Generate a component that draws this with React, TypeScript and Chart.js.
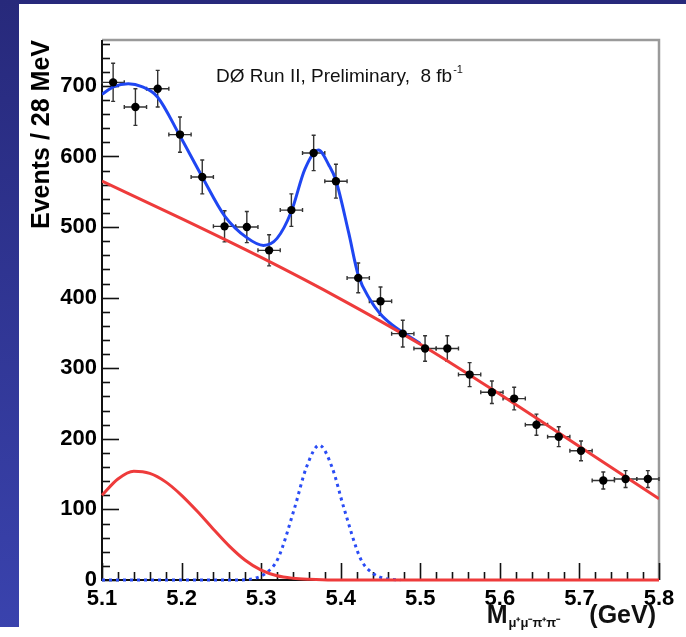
import React, { useEffect, useRef } from "react";
import { Chart, registerables } from "chart.js";

Chart.register(...registerables);

const W = 686;
const H = 637;
const FONT = '"Liberation Sans", Arial, Helvetica, sans-serif';

// Data histogram (28 MeV bins)
const binCenters = [
  5.114, 5.142, 5.17, 5.198, 5.226, 5.254, 5.282, 5.31, 5.338, 5.366, 5.394, 5.422, 5.45,
  5.478, 5.506, 5.534, 5.562, 5.59, 5.618, 5.646, 5.674, 5.702, 5.73, 5.758, 5.786,
];
const counts = [
  705, 670, 696, 631, 571, 501, 500, 467, 524, 605, 565, 428, 395, 349, 328, 328, 291, 266,
  257, 220, 203, 183, 141, 143, 143,
];
const countErrors = [
  27, 26, 26, 25, 24, 22, 22, 22, 23, 25, 24, 21, 20, 19, 18, 18, 17, 16, 16, 15, 14, 14, 12,
  12, 12,
];
const binHalfWidth = 0.014;

// Total fit (blue)
const totalFitX = [
  5.1, 5.115, 5.133, 5.15, 5.17, 5.197, 5.226, 5.254, 5.282, 5.303, 5.32, 5.338, 5.355, 5.372,
  5.385, 5.394, 5.41, 5.422, 5.437, 5.449, 5.464, 5.478, 5.5,
];
const totalFitY = [
  688, 699, 703, 699, 684, 631, 571, 516, 485, 474, 484, 522, 582, 609, 588, 566, 492, 432, 397,
  378, 362, 351, 335,
];

// Combinatorial background (red line)
const bkgLineX = [5.1, 5.2, 5.3, 5.4, 5.5, 5.6, 5.7, 5.8];
const bkgLineY = [565, 512, 457, 398, 334, 263, 189, 115];

// Partially reconstructed background (red bump)
const bkgBumpX = [
  5.1, 5.12, 5.14, 5.16, 5.18, 5.2, 5.22, 5.24, 5.26, 5.28, 5.3, 5.32, 5.34, 5.36, 5.39, 5.8,
];
const bkgBumpY = [120, 143, 154, 151, 139, 120, 97, 72, 48, 28, 14, 6, 2.5, 1, 0, 0];

// Signal (blue dotted)
const signalX = [
  5.1, 5.27, 5.29, 5.305, 5.321, 5.342, 5.357, 5.373, 5.389, 5.404, 5.425, 5.441, 5.456, 5.475,
];
const signalY = [0, 0, 2, 9, 30, 102, 160, 191, 160, 102, 30, 9, 2, 0];

const xTickValues = [5.1, 5.2, 5.3, 5.4, 5.5, 5.6, 5.7, 5.8];
const yTickValues = [0, 100, 200, 300, 400, 500, 600, 700];
const xMin = 5.1;
const xMax = 5.8;
const yMin = 0;
const yMax = 765;
const xMinorStep = 0.02;
const yMinorStep = 20;

const pts = (xs: number[], ys: number[]) => xs.map((x, i) => ({ x, y: ys[i] }));

const bgPlugin = {
  id: "bgPlugin",
  beforeDraw(chart: any) {
    const ctx = chart.ctx;
    ctx.save();
    ctx.fillStyle = "#ffffff";
    ctx.fillRect(0, 0, W, H);
    const g = ctx.createLinearGradient(0, 0, 0, H);
    g.addColorStop(0, "#27297b");
    g.addColorStop(1, "#3a43ae");
    ctx.fillStyle = g;
    ctx.fillRect(0, 0, W, 4);
    ctx.fillRect(0, 0, 19, 627);
    ctx.restore();
  },
};

const framePlugin = {
  id: "framePlugin",
  beforeDatasetsDraw(chart: any) {
    const ctx = chart.ctx;
    const { left, right, top, bottom } = chart.chartArea;
    const xs = chart.scales.x;
    const ys = chart.scales.y;
    ctx.save();
    ctx.strokeStyle = "#9a9a9a";
    ctx.lineWidth = 2.5;
    ctx.beginPath();
    ctx.moveTo(left, top);
    ctx.lineTo(right, top);
    ctx.lineTo(right, bottom);
    ctx.stroke();
    ctx.strokeStyle = "#111";
    ctx.lineWidth = 2;
    ctx.beginPath();
    ctx.moveTo(left, top);
    ctx.lineTo(left, bottom);
    ctx.lineTo(right, bottom);
    ctx.stroke();
    ctx.lineWidth = 1.6;
    const nx = Math.round((xMax - xMin) / xMinorStep);
    for (let i = 0; i <= nx; i++) {
      const v = xMin + i * xMinorStep;
      const px = Math.round(xs.getPixelForValue(v)) + 0.5;
      const major = i % 5 === 0;
      ctx.beginPath();
      ctx.moveTo(px, bottom);
      ctx.lineTo(px, bottom - (major ? 17 : 8));
      ctx.stroke();
    }
    const ny = Math.floor((yMax - yMin) / yMinorStep);
    for (let i = 0; i <= ny; i++) {
      const v = yMin + i * yMinorStep;
      const py = Math.round(ys.getPixelForValue(v)) + 0.5;
      const major = i % 5 === 0;
      ctx.beginPath();
      ctx.moveTo(left, py);
      ctx.lineTo(left + (major ? 17 : 8), py);
      ctx.stroke();
    }
    ctx.strokeStyle = "#333";
    ctx.lineWidth = 1.4;
    binCenters.forEach((c, i) => {
      const px = xs.getPixelForValue(c);
      const py = ys.getPixelForValue(counts[i]);
      const pyLo = ys.getPixelForValue(counts[i] - countErrors[i]);
      const pyHi = ys.getPixelForValue(counts[i] + countErrors[i]);
      const pxLo = xs.getPixelForValue(c - binHalfWidth);
      const pxHi = xs.getPixelForValue(c + binHalfWidth);
      ctx.beginPath();
      ctx.moveTo(px, pyLo);
      ctx.lineTo(px, pyHi);
      ctx.moveTo(pxLo, py);
      ctx.lineTo(pxHi, py);
      ctx.moveTo(px - 2, pyLo);
      ctx.lineTo(px + 2, pyLo);
      ctx.moveTo(px - 2, pyHi);
      ctx.lineTo(px + 2, pyHi);
      ctx.moveTo(pxLo, py - 2);
      ctx.lineTo(pxLo, py + 2);
      ctx.moveTo(pxHi, py - 2);
      ctx.lineTo(pxHi, py + 2);
      ctx.stroke();
    });
    ctx.restore();
  },
};

const textPlugin = {
  id: "textPlugin",
  afterDraw(chart: any) {
    const ctx = chart.ctx;
    ctx.save();
    ctx.fillStyle = "#111";
    ctx.textBaseline = "alphabetic";
    ctx.textAlign = "left";
    ctx.font = `19px ${FONT}`;
    const main = "D\u00D8 Run II, Preliminary,  8 fb";
    const ax = 216;
    const ay = 82;
    ctx.fillText(main, ax, ay);
    const mw = ctx.measureText(main).width;
    ctx.font = `11px ${FONT}`;
    ctx.fillText("-1", ax + mw + 1, ay - 9);

    const rightEdge = 656;
    const base = 623;
    ctx.font = `bold 25px ${FONT}`;
    const gev = "(GeV)";
    const gevW = ctx.measureText(gev).width;
    const mW = ctx.measureText("M").width;
    ctx.font = `bold 13px ${FONT}`;
    const sub = "\u03BC\u207A\u03BC\u207B\u03C0\u207A\u03C0\u207B";
    const subW = ctx.measureText(sub).width;
    const gap = 30;
    const startX = rightEdge - gevW - gap - subW - mW;
    ctx.font = `bold 25px ${FONT}`;
    ctx.fillText("M", startX, base);
    ctx.fillText(gev, rightEdge - gevW, base);
    ctx.font = `bold 13px ${FONT}`;
    ctx.fillText(sub, startX + mW + 1, base + 4);
    ctx.restore();
  },
};

export default function App() {
  const canvasRef = useRef<HTMLCanvasElement | null>(null);

  useEffect(() => {
    if (!canvasRef.current) return;
    const chart = new Chart(canvasRef.current, {
      type: "line",
      data: {
        datasets: [
          {
            label: "points",
            data: pts(binCenters, counts),
            showLine: false,
            pointRadius: 4.2,
            pointBackgroundColor: "#000",
            pointBorderColor: "#000",
            pointBorderWidth: 0,
            order: 0,
          },
          {
            label: "bkg line",
            data: pts(bkgLineX, bkgLineY),
            borderColor: "#ee3b3b",
            borderWidth: 3,
            pointRadius: 0,
            cubicInterpolationMode: "monotone",
            order: 1,
          },
          {
            label: "bkg bump",
            data: pts(bkgBumpX, bkgBumpY),
            borderColor: "#ee3b3b",
            borderWidth: 3,
            pointRadius: 0,
            cubicInterpolationMode: "monotone",
            clip: 4,
            order: 2,
          },
          {
            label: "total",
            data: pts(totalFitX, totalFitY),
            borderColor: "#1f46f2",
            borderWidth: 3,
            pointRadius: 0,
            cubicInterpolationMode: "monotone",
            order: 3,
          },
          {
            label: "signal",
            data: pts(signalX, signalY),
            borderColor: "#2a4cf5",
            borderWidth: 3,
            borderDash: [3, 4],
            pointRadius: 0,
            cubicInterpolationMode: "monotone",
            clip: 4,
            order: 4,
          },
        ],
      },
      options: {
        responsive: false,
        animation: false,
        devicePixelRatio: 1,
        layout: { padding: { left: 0, top: 40, right: 27, bottom: 0 } },
        plugins: {
          legend: { display: false },
          tooltip: { enabled: false },
        },
        scales: {
          x: {
            type: "linear",
            min: xMin,
            max: xMax,
            grid: { display: false, drawTicks: false },
            border: { display: false },
            afterBuildTicks: (scale: any) => {
              scale.ticks = xTickValues.map((v) => ({ value: v }));
            },
            afterFit: (scale: any) => {
              scale.height = H - 580;
            },
            ticks: {
              padding: 6,
              color: "#000",
              font: { family: FONT, size: 22, weight: "bold" },
              callback: (v: any) => Number(v).toFixed(1),
            },
          },
          y: {
            type: "linear",
            min: yMin,
            max: yMax,
            grid: { display: false, drawTicks: false },
            border: { display: false },
            afterBuildTicks: (scale: any) => {
              scale.ticks = yTickValues.map((v) => ({ value: v }));
            },
            afterFit: (scale: any) => {
              scale.width = 102;
            },
            ticks: {
              padding: 5,
              color: "#000",
              font: { family: FONT, size: 22, weight: "bold" },
              callback: (v: any) => String(v),
            },
            title: {
              display: true,
              text: "Events / 28 MeV",
              align: "end",
              color: "#000",
              font: { family: FONT, size: 25, weight: "bold" },
              padding: { top: 27, bottom: 0 },
            },
          },
        },
      },
      plugins: [bgPlugin, framePlugin, textPlugin],
    } as any);
    return () => chart.destroy();
  }, []);

  return (
    <div style={{ position: "fixed", left: 0, top: 0, width: W, height: H }}>
      <canvas ref={canvasRef} width={W} height={H} style={{ width: W, height: H, display: "block" }} />
    </div>
  );
}
